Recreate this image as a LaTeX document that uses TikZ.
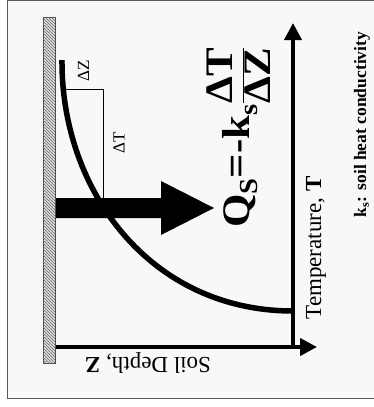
\documentclass[tikz,border=0pt]{standalone}
\usepackage{fontspec}
\setmainfont{Liberation Serif}
\usetikzlibrary{arrows.meta,patterns}
\definecolor{panel}{HTML}{F8F8F8}

\begin{document}
\begin{tikzpicture}[x=1pt,y=-1pt,
    axis/.style={line width=4pt,-{Triangle[length=17pt,width=17pt]}},
    lbl/.style={inner sep=0pt,rotate=90}]
    \useasboundingbox (0,0) rectangle (374,407);
    \clip (0,0) rectangle (374,407);
    % panel
    \fill[white] (0,0) rectangle (374,407);
    \draw[gray!70!black, line width=1pt, fill=panel] (7.5,0.5) rectangle (380,398);

    % ground surface
    \draw[gray!60!black, line width=0.6pt, fill=gray!25] (43,17) rectangle (55,363);
    \fill[pattern=north west lines, pattern color=gray!80!black] (43,17) rectangle (55,363);

    % axes
    \coordinate (S0) at (55.5,347);
    \coordinate (O) at (293,349);
    \coordinate (Zend) at (317,347);
    \coordinate (Tend) at (293,23);
    \draw[axis] (S0) -- (Zend);
    \draw[axis] (O) -- (Tend);

    % temperature profile
    \coordinate (top) at (62,60);
    \coordinate (deep) at (293,311);
    \draw[line width=5.5pt] (top) .. controls (61,190) and (150,311) .. (deep);

    % slope triangle
    \coordinate (c1) at (66,89);
    \coordinate (c2) at (103,89);
    \coordinate (c3) at (103,198);
    \draw[line width=0.8pt] (c1) -- (c2) -- (c3);
    \node[lbl, font=\fontsize{17}{17}\selectfont] (dz) at (83.5,71) {ΔZ};
    \node[lbl, font=\fontsize{17}{17}\selectfont] (dt) at (119,143) {ΔT};

    % heat flux arrow
    \fill (56,198) -- (161,198) -- (161,181) -- (214,208) -- (161,235) -- (161,218) -- (56,218) -- cycle;

    % labels
    \node[lbl, xscale=1.1, font=\fontsize{39}{39}\selectfont\bfseries] (flux) at (238.5,137)
        {Q\raisebox{-8pt}{\fontsize{26}{26}\selectfont S}=-k\raisebox{-8pt}{\fontsize{26}{26}\selectfont s}$\displaystyle\frac{\mbox{ΔT}}{\mbox{ΔZ}}$};
    \node[lbl, font=\fontsize{23}{23}\selectfont] (temp) at (316,248) {Temperature, \textbf{T}};
    \node[inner sep=0pt, rotate=180, font=\fontsize{23}{23}\selectfont] (depth) at (148,363.5) {Soil Depth, \textbf{Z}};
    \node[lbl, font=\fontsize{17.5}{17.5}\selectfont\bfseries] (ks) at (362,124.5) {k\textsubscript{s}: soil heat conductivity};
\end{tikzpicture}
\end{document}
